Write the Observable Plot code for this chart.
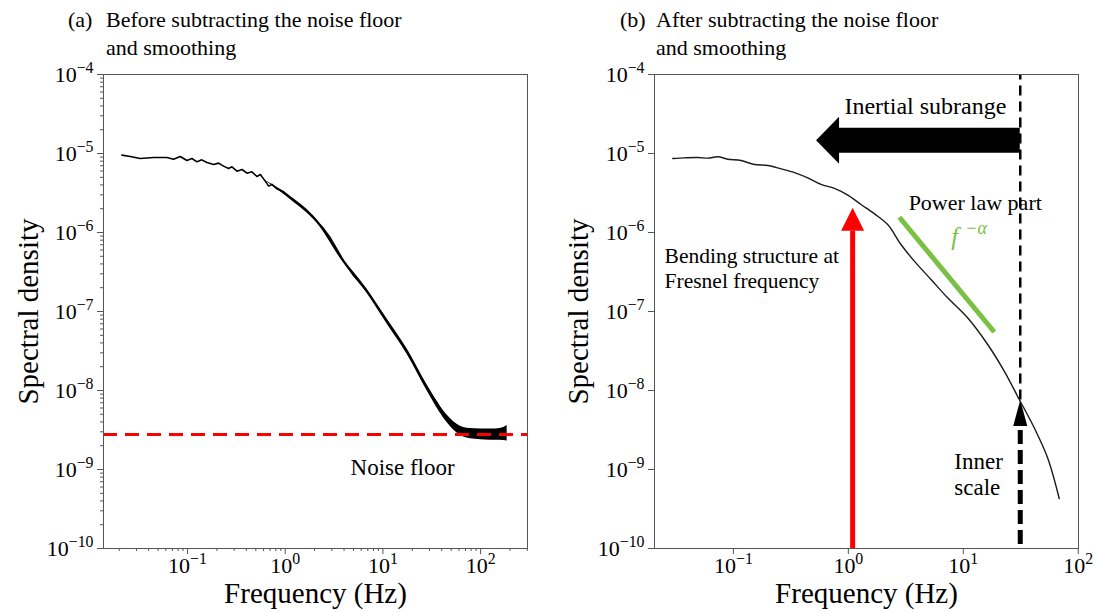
<!DOCTYPE html>
<html><head><meta charset="utf-8">
<script src="https://cdn.jsdelivr.net/npm/d3@7"></script>
<script src="https://cdn.jsdelivr.net/npm/@observablehq/plot@0.6"></script>
<style>
html,body{margin:0;padding:0;background:#fff;}
#wrap{position:relative;width:1098px;height:612px;overflow:hidden;font-family:"Liberation Serif",serif;color:#000;}
.title{position:absolute;font-size:22px;line-height:28px;white-space:nowrap;}
.plot{position:absolute;top:60px;}
</style></head><body>
<div id="wrap">
  <div class="title" style="left:68px;top:6px">(a)</div>
  <div class="title" style="left:106px;top:6px">Before subtracting the noise floor<br>and smoothing</div>
  <div class="title" style="left:620px;top:6px">(b)</div>
  <div class="title" style="left:656px;top:6px">After subtracting the noise floor<br>and smoothing</div>
  <div id="left" class="plot" style="left:0px"></div>
  <div id="right" class="plot" style="left:549px"></div>
</div>
<script>
// ---------- data ----------
// (a) raw spectrum
const leftFreq = [0.0213,0.0259,0.0328,0.0449,0.0615,0.0719,0.0842,0.0985,0.111,0.125,0.140,0.158,0.185,0.208,0.234,0.263,0.285,0.321,0.361,0.406,0.456,0.513,0.556,0.625,0.676,0.731,0.822,0.963,1.13,1.32,1.54,1.81,2.11,2.47,2.89,3.39,3.96,5.01,6.87,11.0,17.6,28.3,35.8,41.9,49.1,57.4,67.1,78.5,99.5,126,159,187];
const leftDensity = [9.53e-6,9.17e-6,8.65e-6,8.90e-6,8.90e-6,8.47e-6,9.17e-6,8.15e-6,8.65e-6,7.85e-6,8.31e-6,7.69e-6,7.26e-6,7.55e-6,6.92e-6,6.46e-6,6.78e-6,5.97e-6,6.27e-6,5.63e-6,5.86e-6,5.12e-6,5.42e-6,4.47e-6,3.86e-6,4.06e-6,3.57e-6,3.27e-6,2.75e-6,2.38e-6,2.01e-6,1.69e-6,1.39e-6,1.12e-6,8.57e-7,6.10e-7,4.34e-7,2.85e-7,1.81e-7,7.55e-8,3.15e-8,1.08e-8,6.98e-9,4.97e-9,3.90e-9,3.30e-9,3.00e-9,2.86e-9,2.83e-9,2.77e-9,2.77e-9,2.77e-9];
// scatter envelope of the noisy raw spectrum
const bandFreq = [0.6,1.13,2.11,3.96,6.87,11.0,17.6,28.3,41.9,57.4,78.5,126,159,187];
const bandLow  = [4.7e-6,2.62e-6,1.32e-6,4.1e-7,1.70e-7,7.0e-8,2.9e-8,9.9e-9,4.45e-9,2.9e-9,2.45e-9,2.35e-9,2.35e-9,2.3e-9];
const bandHigh = [4.7e-6,2.88e-6,1.46e-6,4.6e-7,1.93e-7,8.1e-8,3.4e-8,1.18e-8,5.5e-9,3.75e-9,3.3e-9,3.25e-9,3.3e-9,3.6e-9];
const noiseFloor = 2.77e-9;

// (b) smoothed spectrum
const rightFreq = [0.0297,0.0376,0.0491,0.0600,0.0733,0.0895,0.1167,0.1524,0.199,0.260,0.340,0.444,0.579,0.757,0.989,1.29,1.69,2.20,2.87,3.75,5.24,7.31,10.9,16.3,22.7,30.7,41.4,54.1,68.3];
const rightDensity = [8.65e-6,8.81e-6,8.90e-6,8.73e-6,9.08e-6,8.47e-6,8.15e-6,7.26e-6,7.05e-6,6.40e-6,5.74e-6,4.92e-6,4.06e-6,3.61e-6,2.97e-6,2.26e-6,1.72e-6,1.26e-6,7.05e-7,4.34e-7,2.54e-7,1.49e-7,8.32e-8,3.82e-8,1.76e-8,7.69e-9,3.37e-9,1.41e-9,4.30e-10];

// annotation anchors (frequency, density)
const fresnelArrow = [{x: 1.09, bottom: 1e-10, base: 1.04e-6, tip: 2.05e-6}];
const innerScale   = [{x: 31.3, bottom: 1.12e-10, base: 3.7e-9, tip: 7.6e-9, top: 1e-4}];
const inertialArrow = [{y: 1.476e-5, tip: 0.524, base: 0.835, tail: 31.3}];
const powerLawFit  = [{x1: 2.78, y1: 1.56e-6, x2: 18.6, y2: 5.5e-8}];
const leftNotes  = [{text: "Noise floor", x: 15.9, y: 1.06e-9}];
const centeredNotes = [
  {text: "Inertial subrange", x: 4.68, y: 3.97e-5, size: 24},
  {text: "Power law part", x: 12.7, y: 2.40e-6, size: 22}
];
const startNotes = [
  {text: "Bending structure at\nFresnel frequency", x: 0.0252, y: 3.56e-7, size: 21.5},
  {text: "Inner\nscale", x: 8.36, y: 8.9e-10, size: 23}
];
const powerLawLabel = [{x: 7.87, y: 8.65e-7}];

// tick values
const yMajor = [1e-10,1e-9,1e-8,1e-7,1e-6,1e-5,1e-4];
const xMajor = [0.1,1,10,100];

// ---------- helpers ----------
const FONT = '"Liberation Serif", serif';
const sup = d => "10^" + String(Math.round(Math.log10(d))).replace("-", "\u2212");
function minorTicks(lo, hi) {
  const out = [];
  for (let e = Math.floor(Math.log10(lo)); e <= Math.ceil(Math.log10(hi)); e++)
    for (let k = 2; k <= 9; k++) { const v = k * Math.pow(10, e); if (v >= lo && v <= hi) out.push(v); }
  return out;
}
function fixSuperscripts(svg) {
  for (const t of svg.querySelectorAll("text")) {
    const m = /^10\^(.+)$/.exec(t.textContent);
    if (!m) continue;
    t.textContent = "10";
    const s = document.createElementNS("http://www.w3.org/2000/svg", "tspan");
    s.setAttribute("dy", "-0.55em");
    s.setAttribute("font-size", "0.72em");
    s.textContent = m[1];
    t.appendChild(s);
  }
  return svg;
}
const headLeft  = {draw(c){c.moveTo(0,0);c.lineTo(23,-23.5);c.lineTo(23,23.5);c.closePath();}};
const headUpRed = {draw(c){c.moveTo(0,0);c.lineTo(11.5,23);c.lineTo(-11.5,23);c.closePath();}};
const headUpBlk = {draw(c){c.moveTo(0,0);c.lineTo(7,26);c.lineTo(-7,26);c.closePath();}};
const style = {fontFamily: FONT, fontSize: "22px", color: "#000", background: "transparent", overflow: "visible"};
const AX = "#555";
const axisTitles = (dxY) => [
  Plot.text(["Spectral density"], {frameAnchor: "left", dx: dxY, rotate: -90, textAnchor: "middle", lineAnchor: "middle", fontSize: 29, fill: "#000"}),
  Plot.text(["Frequency (Hz)"], {frameAnchor: "bottom", dy: 45, textAnchor: "middle", lineAnchor: "middle", fontSize: 29, fill: "#000"})
];

// ---------- panel (a) ----------
const lx = [0.0138, 302], ly = [1e-10, 1e-4];
const leftPts = leftFreq.map((f, i) => ({f, d: leftDensity[i]}));
const bandPts = bandFreq.map((f, i) => ({f, lo: bandLow[i], hi: bandHigh[i]}));
const left = Plot.plot({
  width: 549, height: 552,
  marginLeft: 103, marginRight: 22, marginTop: 14, marginBottom: 64,
  style,
  x: {type: "log", domain: lx},
  y: {type: "log", domain: ly},
  marks: [
    Plot.axisX({ticks: minorTicks(...lx), tickSize: 3, fill: "none", stroke: AX, label: null}),
    Plot.axisY({ticks: minorTicks(...ly), tickSize: 3, fill: "none", stroke: AX, label: null}),
    Plot.axisX({ticks: xMajor, tickSize: 6, tickPadding: 3, tickFormat: sup, stroke: AX, fill: "#000", label: null}),
    Plot.axisY({ticks: yMajor, tickSize: 6, tickPadding: 4, tickFormat: sup, stroke: AX, fill: "#000", label: null}),
    Plot.areaY(bandPts, {x: "f", y1: "lo", y2: "hi", fill: "#000", curve: "monotone-x"}),
    Plot.line(leftPts, {x: "f", y: "d", stroke: "#000", strokeWidth: 1.6}),
    Plot.ruleY([noiseFloor], {stroke: "#ff0000", strokeWidth: 3, strokeDasharray: "14,8"}),
    Plot.text(leftNotes, {x: "x", y: "y", text: "text", fontSize: 23, fill: "#000"}),
    ...axisTitles(-75),
    Plot.frame({stroke: AX, strokeWidth: 1})
  ]
});
document.getElementById("left").appendChild(fixSuperscripts(left));

// ---------- panel (b) ----------
const rx = [0.0206, 100.5], ry = [1e-10, 1e-4];
const rightPts = rightFreq.map((f, i) => ({f, d: rightDensity[i]}));
const right = Plot.plot({
  width: 549, height: 552,
  marginLeft: 105, marginRight: 20, marginTop: 14, marginBottom: 64,
  style,
  x: {type: "log", domain: rx},
  y: {type: "log", domain: ry},
  marks: [
    Plot.axisX({ticks: xMajor, tickSize: 6, tickPadding: 3, tickFormat: sup, stroke: AX, fill: "#000", label: null}),
    Plot.axisY({ticks: yMajor, tickSize: 6, tickPadding: 4, tickFormat: sup, stroke: AX, fill: "#000", label: null}),
    // inner scale marker: thin dashed line above, thick dashed arrow below
    Plot.ruleX(innerScale, {x: "x", y1: "tip", y2: "top", stroke: "#000", strokeWidth: 2.5, strokeDasharray: "10,6"}),
    Plot.ruleX(innerScale, {x: "x", y1: "bottom", y2: "base", stroke: "#000", strokeWidth: 5, strokeDasharray: "14,6"}),
    Plot.dot(innerScale, {x: "x", y: "tip", symbol: headUpBlk, fill: "#000", stroke: "none", r: 5}),
    // inertial subrange block arrow
    Plot.ruleY(inertialArrow, {y: "y", x1: "base", x2: "tail", stroke: "#000", strokeWidth: 25}),
    Plot.dot(inertialArrow, {x: "tip", y: "y", symbol: headLeft, fill: "#000", stroke: "none", r: 5}),
    // Fresnel arrow
    Plot.ruleX(fresnelArrow, {x: "x", y1: "bottom", y2: "base", stroke: "#ff0000", strokeWidth: 5}),
    Plot.dot(fresnelArrow, {x: "x", y: "tip", symbol: headUpRed, fill: "#ff0000", stroke: "none", r: 5}),
    // power-law guide
    Plot.link(powerLawFit, {x1: "x1", y1: "y1", x2: "x2", y2: "y2", stroke: "#7ac143", strokeWidth: 5}),
    Plot.line(rightPts, {x: "f", y: "d", stroke: "#1a1a1a", strokeWidth: 1.4, curve: "catmull-rom"}),
    Plot.text(centeredNotes, {x: "x", y: "y", text: "text", fontSize: d => d.size, textAnchor: "middle", fill: "#000"}),
    Plot.text(startNotes, {x: "x", y: "y", text: "text", fontSize: d => d.size, textAnchor: "start", fill: "#000", lineHeight: 1.15}),
    Plot.text(powerLawLabel, {x: "x", y: "y", text: () => "f", fontSize: 25, fontStyle: "italic", fill: "#7ac143", textAnchor: "start"}),
    Plot.text(powerLawLabel, {x: "x", y: "y", text: () => "\u2212\u03b1", fontSize: 18, fontStyle: "italic", fill: "#7ac143", textAnchor: "start", dx: 14, dy: -9}),
    ...axisTitles(-76),
    Plot.frame({stroke: AX, strokeWidth: 1})
  ]
});
document.getElementById("right").appendChild(fixSuperscripts(right));
</script>
</body></html>
